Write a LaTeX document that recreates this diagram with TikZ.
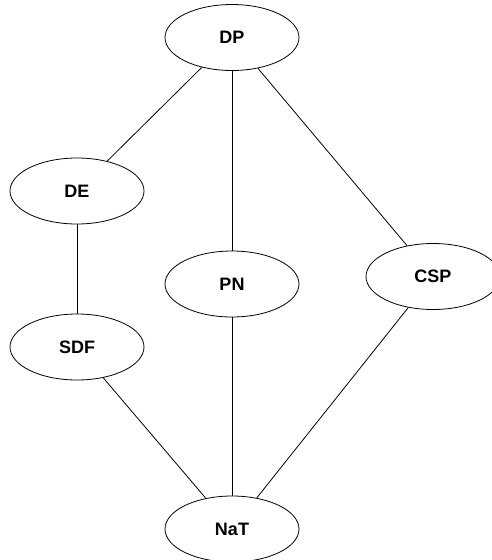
\documentclass[tikz,border=0pt]{standalone}
\usepackage{fontspec}
\setmainfont{Liberation Sans}
\usetikzlibrary{shapes.geometric}
\begin{document}
\begin{tikzpicture}[x=1pt,y=-1pt,
  st/.style={ellipse,draw,line width=0.8pt,minimum width=134pt,minimum height=66pt,inner sep=0pt,font=\fontsize{18}{20}\selectfont\bfseries},
  ln/.style={line width=0.8pt}]
\useasboundingbox (0,0) rectangle (492,560);
\node[st] (DP) at (232,37.5) {DP};
\node[st] (DE) at (77,191) {DE};
\node[st] (PN) at (232,284) {PN};
\node[st] (CSP) at (433,276.5) {CSP};
\node[st] (SDF) at (77,347) {SDF};
\node[st] (NaT) at (232,529) {NaT};
\draw[ln] (DP) -- (DE);
\draw[ln] (DP) -- (PN);
\draw[ln] (DP) -- (CSP);
\draw[ln] (DE) -- (SDF);
\draw[ln] (SDF) -- (NaT);
\draw[ln] (PN) -- (NaT);
\draw[ln] (CSP) -- (NaT);
\end{tikzpicture}
\end{document}
